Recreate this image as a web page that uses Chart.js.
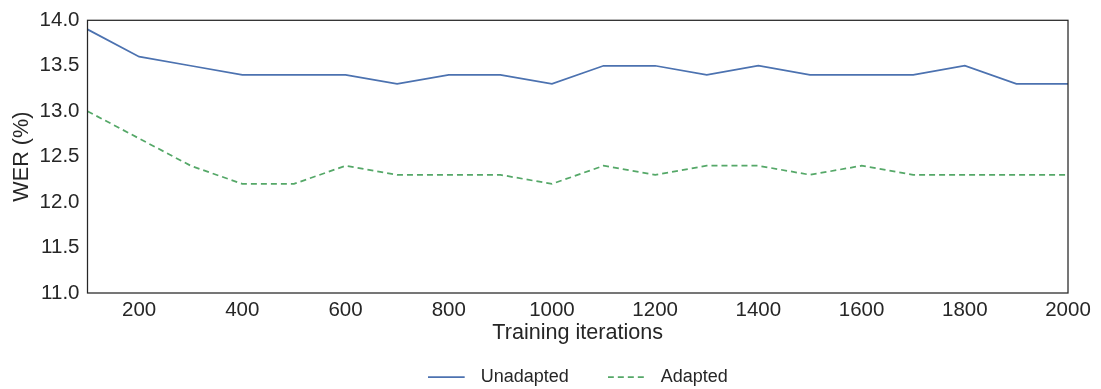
<!DOCTYPE html>
<html>
<head>
<meta charset="utf-8">
<script src="https://cdn.jsdelivr.net/npm/chart.js@4.4.0/dist/chart.umd.min.js"></script>
<style>
html,body{margin:0;padding:0;background:#fff;}
#wrap{width:1101px;height:389px;position:relative;}
</style>
</head>
<body>
<div id="wrap"><canvas id="c"></canvas></div>
<script>
const iterations = [100,200,300,400,500,600,700,800,900,1000,1100,1200,1300,1400,1500,1600,1700,1800,1900,2000];
const unadapted = [13.9,13.6,13.5,13.4,13.4,13.4,13.3,13.4,13.4,13.3,13.5,13.5,13.4,13.5,13.4,13.4,13.4,13.5,13.3,13.3];
const adapted   = [13.0,12.7,12.4,12.2,12.2,12.4,12.3,12.3,12.3,12.2,12.4,12.3,12.4,12.4,12.3,12.4,12.3,12.3,12.3,12.3];
const xTicks = [200,400,600,800,1000,1200,1400,1600,1800,2000];
const yTicks = [11.0,11.5,12.0,12.5,13.0,13.5,14.0];

const FONT = "'Liberation Sans', Arial, sans-serif";
const TXT = '#262626';
const BLUE = '#4C72B0', GREEN = '#55A868';
const LW = 1.75, DASH = [6,4];

function legendLine(color, dash){
  const c = document.createElement('canvas');
  c.width = 44; c.height = 6;
  const g = c.getContext('2d');
  g.strokeStyle = color; g.lineWidth = LW; g.setLineDash(dash);
  g.beginPath(); g.moveTo(0,3); g.lineTo(37,3); g.stroke();
  return c;
}

const frame = {
  id:'frame',
  afterDraw(chart){
    const a = chart.chartArea, ctx = chart.ctx;
    ctx.save();
    ctx.strokeStyle = TXT;
    ctx.lineWidth = 1.25;
    ctx.strokeRect(a.left, a.top, a.right-a.left, a.bottom-a.top);
    ctx.restore();
  }
};

new Chart(document.getElementById('c'), {
  type:'line',
  data:{
    datasets:[
      {label:'Unadapted', data: iterations.map((x,i)=>({x, y: unadapted[i]})),
       borderColor:BLUE, backgroundColor:BLUE, borderWidth:LW, pointRadius:0, pointStyle:legendLine(BLUE, []), tension:0},
      {label:'Adapted', data: iterations.map((x,i)=>({x, y: adapted[i]})),
       borderColor:GREEN, backgroundColor:GREEN, borderWidth:LW, borderDash:DASH, pointRadius:0, pointStyle:legendLine(GREEN, DASH), tension:0}
    ]
  },
  options:{
    responsive:true, maintainAspectRatio:false, animation:false,
    layout:{padding:{left:0,right:33,top:19,bottom:-7}},
    plugins:{
      tooltip:{enabled:false},
      legend:{
        position:'bottom', fullSize:false,
        labels:{
          usePointStyle:true, pointStyleWidth:44,
          color:TXT, font:{family:FONT, size:18}, padding:39
        }
      }
    },
    scales:{
      x:{
        type:'linear', min:100, max:2000,
        grid:{display:false, drawTicks:false}, border:{display:false},
        afterBuildTicks(s){ s.ticks = xTicks.map(v=>({value:v})); },
        ticks:{color:TXT, font:{family:FONT,size:20.5}, padding:5, maxRotation:0, autoSkip:false, callback:v=>String(v)},
        title:{display:true, text:'Training iterations', color:TXT, font:{family:FONT,size:21.6}, padding:{top:0,bottom:-17}},
        afterFit(s){ s.height = 36; }
      },
      y:{
        min:11, max:14,
        grid:{display:false, drawTicks:false}, border:{display:false},
        afterBuildTicks(s){ s.ticks = yTicks.map(v=>({value:v})); },
        ticks:{color:TXT, font:{family:FONT,size:20.5}, padding:8, callback:v=>v.toFixed(1)},
        title:{display:true, text:'WER (%)', color:TXT, font:{family:FONT,size:21.6}, padding:{top:9,bottom:0}},
        afterFit(s){ s.width = 87.5; }
      }
    }
  },
  plugins:[frame]
});
</script>
</body>
</html>
